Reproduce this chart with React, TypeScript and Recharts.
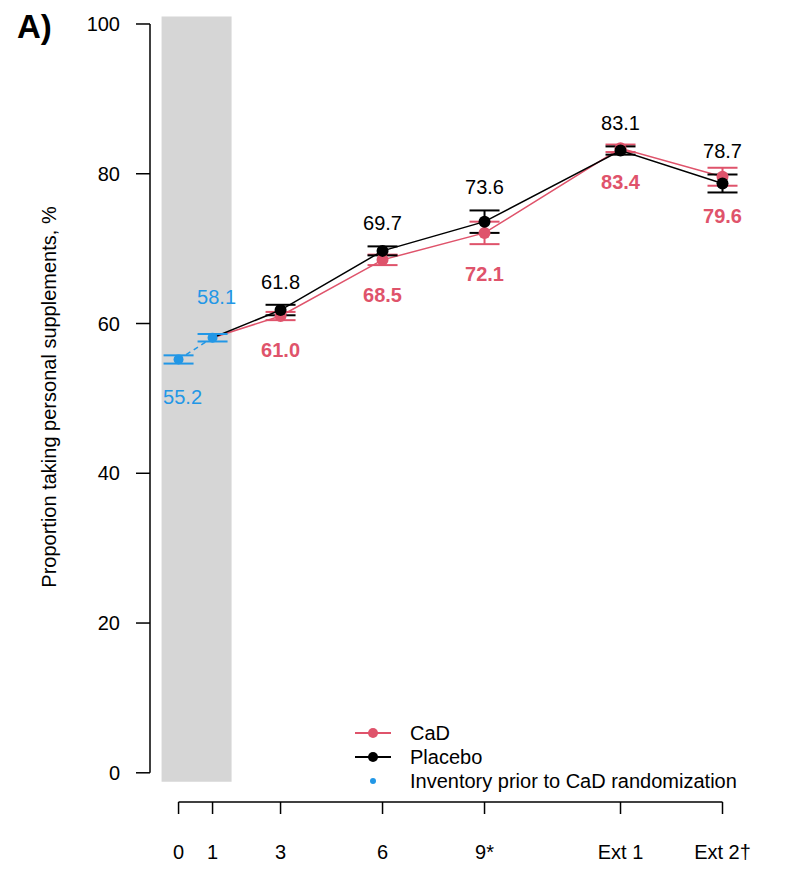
import React from "react";
import {
  ComposedChart,
  Line,
  XAxis,
  YAxis,
  ErrorBar,
  LabelList,
  ReferenceArea,
  ReferenceLine,
} from "recharts";

// months since randomization (Ext 1 / Ext 2 placed at 13 / 16)
const months = [0, 1, 3, 6, 9, 13, 16];
const monthLabels = ["0", "1", "3", "6", "9*", "Ext 1", "Ext 2\u2020"];
const yTicks = [0, 20, 40, 60, 80, 100];

const cad = [null, 58.1, 61.0, 68.5, 72.1, 83.4, 79.6];
const cadErr = [null, null, 0.55, 0.7, 1.5, 0.5, 1.2];
const placebo = [null, 58.1, 61.8, 69.7, 73.6, 83.1, 78.7];
const placeboErr = [null, null, 0.7, 0.6, 1.5, 0.55, 1.2];
const inventory = [55.2, 58.1, null, null, null, null, null];
const inventoryErr = [0.55, 0.5, null, null, null, null, null];

const RED = "#DF536B";
const BLUE = "#2297E6";
const FONT = '"Liberation Sans", Arial, Helvetica, sans-serif';
const FS = 20;

const X_DOMAIN = [-0.84, 17];
const Y_DOMAIN = [-3.9, 101];
const TOP = 16.5;
const PLOT_H = 802 - TOP;
const PX = PLOT_H / (Y_DOMAIN[1] - Y_DOMAIN[0]);

const data = months.map((m, i) => ({
  month: m,
  cad: cad[i],
  cadErr: cadErr[i],
  placebo: placebo[i],
  placeboErr: placeboErr[i],
  inv: inventory[i],
  invErr: inventoryErr[i],
}));

const makeDot = (color: string, r: number, errs: (number | null)[]) => (p: any) => {
  const { cx, cy, index } = p;
  if (errs[index] == null || cx == null || cy == null) return <g key={`d${index}`} />;
  return <circle key={`d${index}`} cx={cx} cy={cy} r={r} fill={color} stroke="none" />;
};

const placeboLabel = (p: any) => {
  const { x, y, value, index } = p;
  const e = placeboErr[index];
  if (e == null || value == null) return null;
  return (
    <text x={x} y={y - e * PX - 23} dy="0.35em" textAnchor="middle" fill="#000" fontSize={FS} fontFamily={FONT}>
      {Number(value).toFixed(1)}
    </text>
  );
};

const cadLabel = (p: any) => {
  const { x, y, value, index } = p;
  const e = cadErr[index];
  if (e == null || value == null) return null;
  return (
    <text x={x} y={y + e * PX + 30} dy="0.35em" textAnchor="middle" fill={RED} fontSize={FS} fontWeight="bold" fontFamily={FONT}>
      {Number(value).toFixed(1)}
    </text>
  );
};

const invLabel = (p: any) => {
  const { x, y, value, index } = p;
  const e = inventoryErr[index];
  if (e == null || value == null) return null;
  const ly = index === 0 ? y + e * PX + 33 : y - e * PX - 37;
  return (
    <text x={x + 4} y={ly} dy="0.35em" textAnchor="middle" fill={BLUE} fontSize={FS} fontFamily={FONT}>
      {Number(value).toFixed(1)}
    </text>
  );
};

const legendItems = [
  { name: "CaD", color: RED, line: true },
  { name: "Placebo", color: "#000", line: true },
  { name: "Inventory prior to CaD randomization", color: BLUE, line: false },
];

const LegendBox = () => (
  <div style={{ fontFamily: FONT, fontSize: FS, lineHeight: "24px", color: "#000" }}>
    {legendItems.map((it) => (
      <div key={it.name} style={{ display: "flex", alignItems: "center", height: 24 }}>
        <svg width={55} height={24} style={{ display: "block" }}>
          {it.line && <line x1={0} y1={12} x2={36} y2={12} stroke={it.color} strokeWidth={2} />}
          <circle cx={18} cy={12} r={it.line ? 5 : 3} fill={it.color} />
        </svg>
        <span>{it.name}</span>
      </div>
    ))}
  </div>
);

export default function App() {
  return (
    <div style={{ position: "absolute", left: 0, top: 0, width: 800, height: 884, background: "#fff" }}>
      <ComposedChart
        width={800}
        height={884}
        data={data}
        margin={{ top: TOP, right: 43.5, bottom: 0, left: 0 }}
      >
        <ReferenceArea x1={-0.5} x2={1.56} y1={-1.2} y2={101} fill="#D6D6D6" fillOpacity={1} stroke="none" ifOverflow="visible" />
        <XAxis
          type="number"
          dataKey="month"
          domain={X_DOMAIN}
          ticks={months}
          tickFormatter={(v: number) => monthLabels[months.indexOf(v)] ?? ""}
          axisLine={false}
          tickLine={{ stroke: "#000", strokeWidth: 1.5 }}
          tickSize={12}
          tickMargin={31}
          height={82}
          interval={0}
          tick={{ fill: "#000", fontSize: FS, fontFamily: FONT }}
          allowDataOverflow
        />
        <YAxis
          type="number"
          domain={Y_DOMAIN}
          ticks={yTicks}
          axisLine={false}
          tickLine={{ stroke: "#000", strokeWidth: 1.5 }}
          tickSize={14}
          tickMargin={16}
          width={150}
          tick={{ fill: "#000", fontSize: FS, fontFamily: FONT }}
          allowDataOverflow
          label={{
            content: () => (
              <text
                x={49}
                y={397}
                transform="rotate(-90 49 397)"
                textAnchor="middle"
                dy="0.35em"
                fontSize={FS}
                fontFamily={FONT}
                fill="#000"
              >
                Proportion taking personal supplements, %
              </text>
            ),
          }}
        />
        <ReferenceLine
          segment={[{ x: X_DOMAIN[0], y: 0 }, { x: X_DOMAIN[0], y: 100 }]}
          stroke="#000"
          strokeWidth={1.5}
          ifOverflow="visible"
        />
        <ReferenceLine
          segment={[{ x: months[0], y: Y_DOMAIN[0] }, { x: months[months.length - 1], y: Y_DOMAIN[0] }]}
          stroke="#000"
          strokeWidth={1.5}
          ifOverflow="visible"
        />
        <Line
          dataKey="cad"
          stroke={RED}
          strokeWidth={1.5}
          dot={makeDot(RED, 6, cadErr)}
          activeDot={false}
          isAnimationActive={false}
        >
          <ErrorBar dataKey="cadErr" width={15} stroke={RED} strokeWidth={2} direction="y" />
          <LabelList dataKey="cad" content={cadLabel} />
        </Line>
        <Line
          dataKey="placebo"
          stroke="#000"
          strokeWidth={1.5}
          dot={makeDot("#000", 6, placeboErr)}
          activeDot={false}
          isAnimationActive={false}
        >
          <ErrorBar dataKey="placeboErr" width={15} stroke="#000" strokeWidth={2} direction="y" />
          <LabelList dataKey="placebo" content={placeboLabel} />
        </Line>
        <Line
          dataKey="inv"
          stroke={BLUE}
          strokeWidth={1.5}
          strokeDasharray="5 4"
          dot={makeDot(BLUE, 5, inventoryErr)}
          activeDot={false}
          isAnimationActive={false}
        >
          <ErrorBar dataKey="invErr" width={15} stroke={BLUE} strokeWidth={2} direction="y" />
          <LabelList dataKey="inv" content={invLabel} />
        </Line>
      </ComposedChart>
      <div style={{ position: "absolute", left: 355, top: 721 }}>
        <LegendBox />
      </div>
      <div
        style={{
          position: "absolute",
          left: 17,
          top: 8,
          fontFamily: FONT,
          fontWeight: "bold",
          fontSize: 33,
        }}
      >
        A)
      </div>
    </div>
  );
}
